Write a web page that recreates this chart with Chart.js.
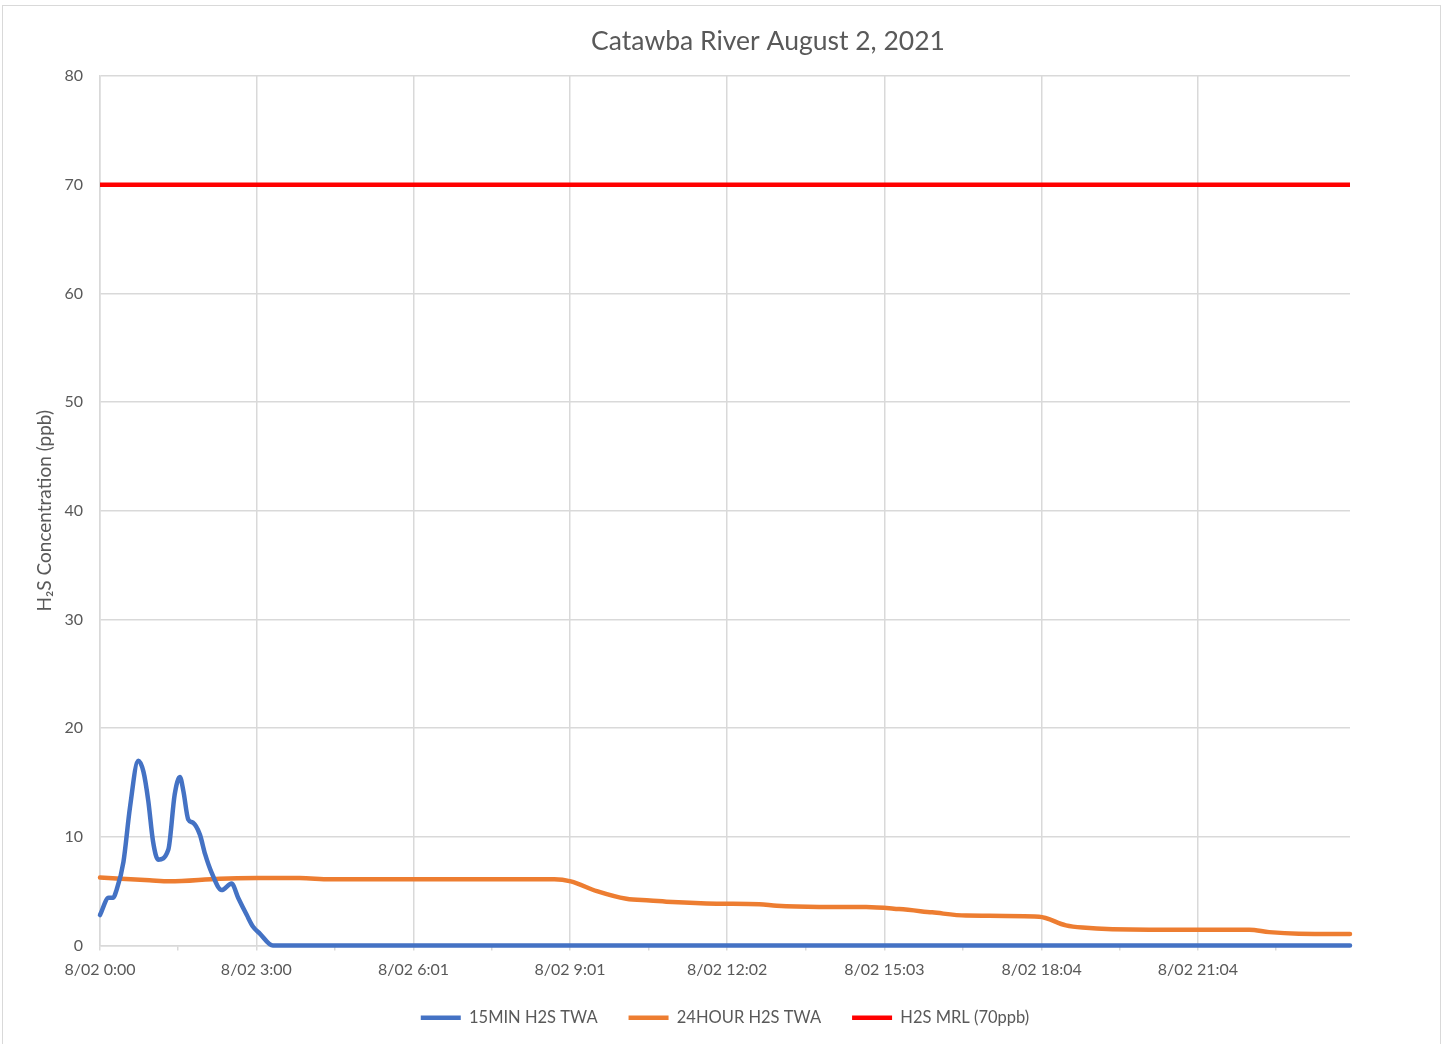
<!DOCTYPE html>
<html>
<head>
<meta charset="utf-8">
<script src="https://cdn.jsdelivr.net/npm/chart.js@4.4.1/dist/chart.umd.min.js"></script>
<style>
  html, body { margin: 0; padding: 0; background: #ffffff; }
  #wrap { position: relative; width: 1445px; height: 1044px; overflow: hidden; }
  #frame { position: absolute; left: 2px; top: 5px; width: 1439px; height: 1060px;
           border: 1px solid #d9d9d9; box-sizing: border-box; }
  #c { position: absolute; left: 0; top: 0; }
</style>
</head>
<body>
<div id="wrap">
  <div id="frame"></div>
  <canvas id="c" width="1445" height="1044"></canvas>
</div>
<script>
// ---- data (x = minutes after 8/02 0:00) ----
const chartTitle = 'Catawba River August 2, 2021';
const yAxisTitle = 'H\u2082S Concentration (ppb)';
const tickLabels = ['8/02 0:00', '8/02 3:00', '8/02 6:01', '8/02 9:01', '8/02 12:02', '8/02 15:03', '8/02 18:04', '8/02 21:04'];
const tickMinutes = [0, 180, 361, 541, 722, 903, 1084, 1264];
const xEnd = 1439;

const min15Minutes = [0, 10, 15, 19, 27, 34.5, 44, 50, 55.6, 61, 67, 78.6, 86, 92, 96, 101.6, 107, 115, 121, 128.5, 140, 151.5, 159, 169, 176, 184, 199, 1439];
const min15Values  = [2.8, 4.4, 4.4, 5.1, 7.7, 12.7, 17.0, 16.0, 13.3, 9.6, 7.9, 8.8, 13.9, 15.5, 14.2, 11.6, 11.3, 10.2, 8.4, 6.7, 5.1, 5.7, 4.4, 2.8, 1.75, 1.1, 0, 0];

const hr24Minutes = [0, 57, 80, 138, 181, 230, 265, 523, 542, 572, 606, 633, 659, 710, 759, 779, 828, 882, 920, 958, 997, 1081, 1112, 1131, 1208, 1323, 1346, 1380, 1439];
const hr24Values  = [6.25, 6.0, 5.9, 6.15, 6.2, 6.2, 6.1, 6.1, 5.9, 5.0, 4.3, 4.15, 4.0, 3.85, 3.8, 3.65, 3.55, 3.55, 3.35, 3.05, 2.75, 2.65, 1.85, 1.65, 1.45, 1.45, 1.23, 1.08, 1.05];

const mrlMinutes = [0, 1439];
const mrlValues  = [70, 70];

const seriesNames = ['15MIN H2S TWA', '24HOUR H2S TWA', 'H2S MRL (70ppb)'];
const seriesColors = ['#4472C4', '#ED7D31', '#FF0000'];

// ---- helpers ----
const toPoints = (xs, ys) => xs.map((x, i) => ({ x: x, y: ys[i] }));
const midMinutes = tickMinutes.map((m, i) => i < tickMinutes.length - 1 ? (m + tickMinutes[i + 1]) / 2 : m + (m - tickMinutes[i - 1]) / 2)
  .filter(m => m <= xEnd);
const allTicks = tickMinutes.concat(midMinutes).sort((a, b) => a - b);

const FONT = 'Lato, "Open Sans", "Noto Sans", sans-serif';
const TXT = '#595959';
const GRID = '#d9d9d9';

Chart.defaults.font.family = FONT;
Chart.defaults.color = TXT;

// shift title / legend horizontal centres to match the reference layout
const centrePlugin = {
  id: 'centrePlugin',
  afterLayout(chart) {
    const t = chart.titleBlock;
    if (t) { const w = t.right - t.left; t.left = 768 - w / 2; t.right = 768 + w / 2; }
    const l = chart.legend;
    if (l) { const w = l.right - l.left; l.left = 725 - w / 2; l.right = 725 + w / 2; }
  }
};

new Chart(document.getElementById('c'), {
  type: 'line',
  data: {
    datasets: [
      { label: seriesNames[0], data: toPoints(min15Minutes, min15Values), borderColor: seriesColors[0], backgroundColor: seriesColors[0],
        borderWidth: 4.5, pointRadius: 0, pointStyle: 'line', cubicInterpolationMode: 'monotone', borderCapStyle: 'round', borderJoinStyle: 'round', clip: 6 },
      { label: seriesNames[1], data: toPoints(hr24Minutes, hr24Values), borderColor: seriesColors[1], backgroundColor: seriesColors[1],
        borderWidth: 4.5, pointRadius: 0, pointStyle: 'line', cubicInterpolationMode: 'monotone', borderCapStyle: 'round', borderJoinStyle: 'round', clip: 6 },
      { label: seriesNames[2], data: toPoints(mrlMinutes, mrlValues), borderColor: seriesColors[2], backgroundColor: seriesColors[2],
        borderWidth: 4.5, pointRadius: 0, pointStyle: 'line', borderCapStyle: 'round' }
    ]
  },
  plugins: [centrePlugin],
  options: {
    responsive: false,
    animation: false,
    events: [],
    layout: { padding: { left: 0, right: 95, top: 0, bottom: 8 } },
    plugins: {
      title: {
        display: true, text: chartTitle, color: TXT,
        font: { size: 26.5, weight: 'normal', family: FONT },
        padding: { top: 25.5, bottom: 18.7 }
      },
      legend: {
        position: 'bottom',
        labels: {
          usePointStyle: true, pointStyleWidth: 40, boxHeight: 16,
          padding: 31, color: TXT, font: { size: 16.5, family: FONT }
        }
      },
      tooltip: { enabled: false }
    },
    scales: {
      x: {
        type: 'linear', min: 0, max: xEnd,
        afterBuildTicks: (s) => { s.ticks = allTicks.map(v => ({ value: v })); },
        afterFit: (s) => { s.height = 33; },
        grid: {
          color: (ctx) => (ctx.tick && tickMinutes.includes(ctx.tick.value)) ? GRID : 'rgba(0,0,0,0)',
          tickColor: GRID, tickLength: 5, lineWidth: 1.5
        },
        border: { display: true, color: GRID, width: 1.5 },
        ticks: {
          autoSkip: false, maxRotation: 0, padding: 10, color: TXT, font: { size: 16 },
          callback: (v) => { const i = tickMinutes.indexOf(v); return i >= 0 ? tickLabels[i] : ''; }
        }
      },
      y: {
        min: 0, max: 80,
        afterFit: (s) => { s.width = 100; },
        grid: { color: GRID, drawTicks: false, lineWidth: 1.5 },
        border: { display: true, color: GRID, width: 1.5 },
        ticks: { stepSize: 10, padding: 17, color: TXT, font: { size: 16 } },
        title: { display: true, text: yAxisTitle, color: TXT, font: { size: 19 }, padding: { top: 33, bottom: 0 } }
      }
    }
  }
});
</script>
</body>
</html>
